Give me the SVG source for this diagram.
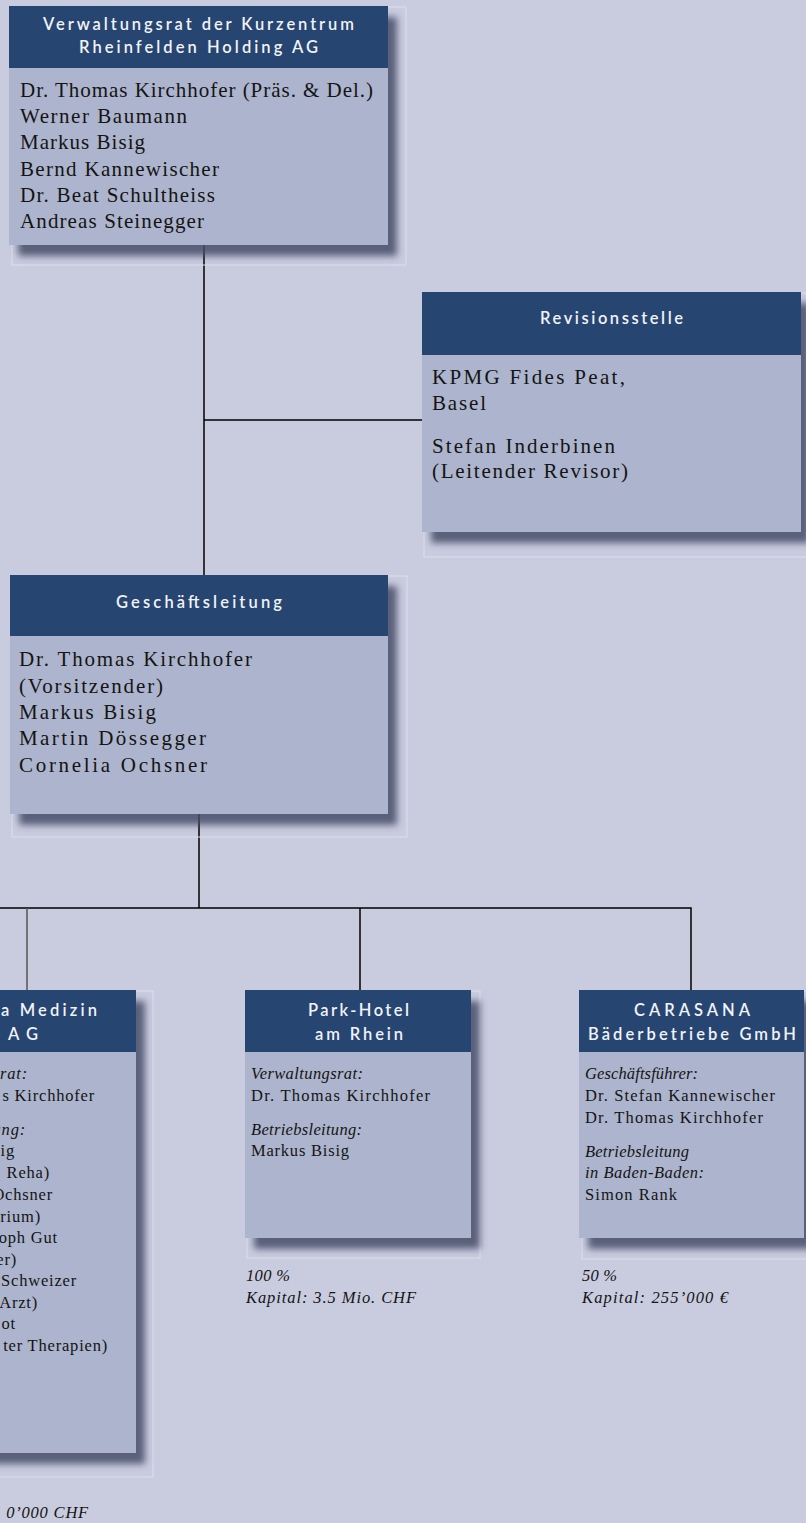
<svg xmlns="http://www.w3.org/2000/svg" width="806" height="1523" viewBox="0 0 806 1523">
<defs>
<style>
.hd{fill:#28446f}
.bd{fill:#adb4cd}
.frame{fill:none;stroke:#dcdfea;stroke-width:1}
.ht{font-family:"Lato","Liberation Sans",sans-serif;font-size:16.5px;fill:#f2f3f8;font-weight:600}
.bt{font-family:"Liberation Serif",serif;font-size:21px;fill:#141414}
.st{font-family:"Liberation Serif",serif;font-size:16.5px;fill:#141414}
.it{font-style:italic}
.frag{text-anchor:end;letter-spacing:0.8px}
.ln{stroke:#000;stroke-width:1.5;fill:none}
</style>
<filter id="sh" x="-10%" y="-10%" width="130%" height="130%">
<feGaussianBlur in="SourceAlpha" stdDeviation="3.5"/>
<feOffset dx="9" dy="11" result="b"/>
<feFlood flood-color="#474c68" flood-opacity="0.85"/>
<feComposite in2="b" operator="in"/>
<feMerge><feMergeNode/><feMergeNode in="SourceGraphic"/></feMerge>
</filter>
</defs>
<rect width="806" height="1523" fill="#c9ccdf"/>
<g id="connectors">
<path class="ln" d="M204 245V575"/>
<path class="ln" d="M204 420H423"/>
<path class="ln" d="M199 814V908"/>
<path class="ln" d="M0 908H691V990"/>
<path class="ln" d="M360 908V990"/>
<path d="M27 908V990" stroke="#555" stroke-width="1.5" fill="none"/>
</g>
<g id="verwaltungsrat">
<rect class="frame" x="12" y="7" width="394" height="258"/>
<g filter="url(#sh)"><rect class="hd" x="9" y="6" width="379" height="62"/><rect class="bd" x="9" y="68" width="379" height="177"/></g>
<text class="ht" x="43" y="30" textLength="311">Verwaltungsrat der Kurzentrum</text>
<text class="ht" x="79" y="53" textLength="239">Rheinfelden Holding AG</text>
<text class="bt" x="20" y="97" textLength="353">Dr. Thomas Kirchhofer (Präs. &amp; Del.)</text>
<text class="bt" x="20" y="123" textLength="167">Werner Baumann</text>
<text class="bt" x="20" y="149" textLength="125">Markus Bisig</text>
<text class="bt" x="20" y="176" textLength="199">Bernd Kannewischer</text>
<text class="bt" x="20" y="202" textLength="195">Dr. Beat Schultheiss</text>
<text class="bt" x="20" y="228" textLength="184">Andreas Steinegger</text>
</g>
<g id="revisionsstelle">
<rect class="frame" x="424" y="293" width="400" height="264"/>
<g filter="url(#sh)"><rect class="hd" x="422" y="292" width="379" height="63"/><rect class="bd" x="422" y="355" width="379" height="177"/></g>
<text class="ht" x="540" y="324" textLength="143">Revisionsstelle</text>
<text class="bt" x="432" y="384" textLength="193">KPMG Fides Peat,</text>
<text class="bt" x="432" y="410" textLength="54">Basel</text>
<text class="bt" x="432" y="453" textLength="183">Stefan Inderbinen</text>
<text class="bt" x="432" y="478" textLength="196">(Leitender Revisor)</text>
</g>
<g id="geschaeftsleitung">
<rect class="frame" x="12" y="576" width="395" height="261"/>
<g filter="url(#sh)"><rect class="hd" x="10" y="575" width="378" height="61"/><rect class="bd" x="10" y="636" width="378" height="178"/></g>
<text class="ht" x="116" y="608" textLength="166">Geschäftsleitung</text>
<text class="bt" x="19" y="666" textLength="233">Dr. Thomas Kirchhofer</text>
<text class="bt" x="19" y="693" textLength="144">(Vorsitzender)</text>
<text class="bt" x="19" y="719" textLength="137">Markus Bisig</text>
<text class="bt" x="19" y="745" textLength="187">Martin Dössegger</text>
<text class="bt" x="19" y="772" textLength="188">Cornelia Ochsner</text>
</g>
<g id="medizin">
<rect class="frame" x="-88" y="991" width="241" height="486"/>
<g filter="url(#sh)"><rect class="hd" x="-90" y="990" width="226" height="62"/><rect class="bd" x="-90" y="1052" width="226" height="401"/></g>
<text class="ht" x="1" y="1016" textLength="96">a Medizin</text>
<text class="ht" x="8" y="1040" textLength="30">AG</text>
<text class="st it frag" x="28" y="1079">srat:</text>
<text class="st frag" x="95" y="1101">s Kirchhofer</text>
<text class="st it frag" x="26" y="1135">ung:</text>
<text class="st frag" x="15" y="1156">ig</text>
<text class="st frag" x="50" y="1178">Reha)</text>
<text class="st frag" x="53" y="1200">Ochsner</text>
<text class="st frag" x="41" y="1222">rium)</text>
<text class="st frag" x="58" y="1243">oph Gut</text>
<text class="st frag" x="17" y="1265">er)</text>
<text class="st frag" x="77" y="1286">Schweizer</text>
<text class="st frag" x="38" y="1308">Arzt)</text>
<text class="st frag" x="16" y="1329">ot</text>
<text class="st frag" x="108" y="1351">ter Therapien)</text>
<text class="st it frag" x="89" y="1518">0’000 CHF</text>
</g>
<g id="parkhotel">
<rect class="frame" x="247" y="991" width="233" height="267"/>
<g filter="url(#sh)"><rect class="hd" x="245" y="990" width="226" height="62"/><rect class="bd" x="245" y="1052" width="226" height="186"/></g>
<text class="ht" x="308" y="1016" textLength="101">Park-Hotel</text>
<text class="ht" x="315" y="1040" textLength="88">am Rhein</text>
<text class="st it" x="251" y="1079" textLength="112">Verwaltungsrat:</text>
<text class="st" x="251" y="1101" textLength="179">Dr. Thomas Kirchhofer</text>
<text class="st it" x="251" y="1135" textLength="111">Betriebsleitung:</text>
<text class="st" x="251" y="1156" textLength="98">Markus Bisig</text>
<text class="st it" x="246" y="1281" textLength="44">100 %</text>
<text class="st it" x="246" y="1303" textLength="170">Kapital: 3.5 Mio. CHF</text>
</g>
<g id="carasana">
<rect class="frame" x="582" y="991" width="240" height="268"/>
<g filter="url(#sh)"><rect class="hd" x="579" y="990" width="225" height="62"/><rect class="bd" x="579" y="1052" width="225" height="186"/></g>
<text class="ht" x="634" y="1016" textLength="116">CARASANA</text>
<text class="ht" x="588" y="1040" textLength="208">Bäderbetriebe GmbH</text>
<text class="st it" x="585" y="1079" textLength="113">Geschäftsführer:</text>
<text class="st" x="585" y="1101" textLength="190">Dr. Stefan Kannewischer</text>
<text class="st" x="585" y="1123" textLength="178">Dr. Thomas Kirchhofer</text>
<text class="st it" x="585" y="1157" textLength="104">Betriebsleitung</text>
<text class="st it" x="585" y="1178" textLength="119">in Baden-Baden:</text>
<text class="st" x="585" y="1200" textLength="92">Simon Rank</text>
<text class="st it" x="582" y="1281" textLength="35">50 %</text>
<text class="st it" x="582" y="1303" textLength="146">Kapital: 255’000 €</text>
</g>
</svg>
